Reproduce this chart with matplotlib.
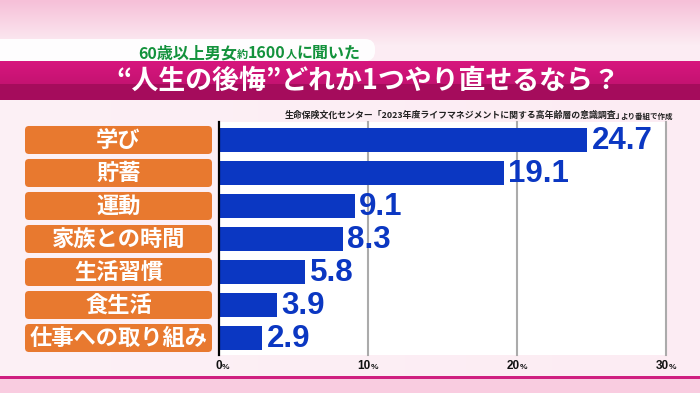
import numpy as np
import matplotlib
matplotlib.use('Agg')
import matplotlib.pyplot as plt
from matplotlib.patches import FancyBboxPatch, Rectangle

# data
items = ['学び', '貯蓄', '運動', '家族との時間', '生活習慣', '食生活', '仕事への取り組み']
values = [24.7, 19.1, 9.1, 8.3, 5.8, 3.9, 2.9]
ticks = [0, 10, 20, 30]
subtitle_parts = [('60歳以上男女', 11.5), ('約', 8), ('1600', 11.5), ('人', 8), ('に聞いた', 11.5)]
title = '“人生の後悔”どれか1つやり直せるなら？'
source_main = '生命保険文化センター「2023年度ライフマネジメントに関する高年齢層の意識調査」'
source_tail = 'より番組で作成'

JP = ['Noto Sans CJK JP', 'DejaVu Sans']
NUM = ['Liberation Sans', 'DejaVu Sans']
BLUE = '#0b37c2'
ORANGE = '#e8792f'
W, H = 700, 393

fig = plt.figure(figsize=(7, 3.93), dpi=100)

# background in pixel coordinates
bg = fig.add_axes([0, 0, 1, 1], zorder=0)
bg.set_xlim(0, W)
bg.set_ylim(H, 0)
bg.axis('off')

rows = np.arange(H)[:, None]
top = np.array([246, 192, 216]) / 255
body = np.array([252, 236, 243]) / 255
t = np.clip(rows / 45.0, 0, 1)
img = top * (1 - t) + body * t
img = np.repeat(img[:, None, :], W, axis=1)
# slight lightening to the left of the body
xs = np.linspace(0, 1, W)[None, :, None]
img = img + (1 - img) * 0.25 * (1 - xs) * (rows[:, :, None] > 60)
img[378:] = np.array([249, 204, 224]) / 255
# magenta band
band_top = np.array([215, 22, 126]) / 255
band_bot = np.array([165, 12, 92]) / 255
for y in range(61, 100):
    if y < 84:
        img[y] = band_top * (1 - (y - 61) / 60) + band_bot * ((y - 61) / 60)
    else:
        img[y] = band_bot
bg.imshow(img, extent=(0, W, H, 0), aspect='auto', zorder=0)

bg.add_patch(Rectangle((0, 376), W, 2.6, color='#cf1f80', lw=0, zorder=1))
bg.add_patch(FancyBboxPatch((-30, 39), 405, 22, boxstyle='round,pad=0,rounding_size=10',
                            fc='white', ec='none', alpha=0.95, zorder=1))

# subtitle in green, made of pieces
prev = None
for txt, fs in subtitle_parts:
    if prev is None:
        prev = bg.text(138, 58, txt, fontsize=fs, color='#13923c', fontweight='bold',
                       family=JP, ha='left', va='baseline', zorder=3)
    else:
        prev = bg.annotate(txt, xy=(1, 0), xycoords=prev, fontsize=fs, color='#13923c',
                           fontweight='bold', family=JP, ha='left', va='bottom', zorder=3)

bg.text(368, 81, title, fontsize=19.4, color='white', fontweight='bold', family=JP,
        ha='center', va='center', zorder=3)

src = bg.text(625, 118, source_main, fontsize=6.4, color='#222222', fontweight='bold',
              family=JP, ha='right', va='baseline', zorder=3)
bg.annotate(source_tail, xy=(1, 0), xycoords=src, xytext=(-3.5, 0), textcoords='offset points',
            fontsize=5.4, color='#222222', fontweight='bold', family=JP,
            ha='left', va='bottom', zorder=3)

# chart
ax = fig.add_axes([219 / W, 1 - 355 / H, (666 - 219) / W, (355 - 122) / H], zorder=1)
ax.set_facecolor('white')
ax.set_xlim(0, 30)
ax.set_ylim(6.515, -0.545)
for s in ax.spines.values():
    s.set_visible(False)
ax.set_xticks([])
ax.set_yticks([])

for tk in ticks[1:]:
    ax.axvline(tk, color='#ababab', lw=1.5, zorder=1, clip_on=False)
ax.axvline(0, color='black', lw=1.6, zorder=3, clip_on=False)

ypos = np.arange(len(items))
ax.barh(ypos, values, height=0.72, color=BLUE, zorder=2)
for y, v in zip(ypos, values):
    ax.text(v + 0.3, y + 0.03, f'{v:.1f}', fontsize=22.5, color=BLUE, fontweight='bold',
            family=NUM, ha='left', va='center', zorder=4)

# orange label boxes, positioned from the chart's y scale
to_bg = bg.transData.inverted()
for y, name in zip(ypos, items):
    yd = ax.transData.transform((0, y))[1]
    yc = to_bg.transform((0, yd))[1]
    bg.add_patch(FancyBboxPatch((25, yc - 14), 187, 28, boxstyle='round,pad=0,rounding_size=4',
                                fc=ORANGE, ec='none', zorder=2))
    bg.text(118.5, yc + 0.5, name, fontsize=16, color='white', fontweight='bold',
            family=JP, ha='center', va='center', zorder=3)

# x tick labels with a small percent sign
for tk in ticks:
    xd = ax.transData.transform((tk, 0))[0]
    xc = to_bg.transform((xd, 0))[0]
    bg.text(xc + 3, 369, str(tk), fontsize=8.5, color='#111111', fontweight='bold',
            family=NUM, ha='right', va='baseline', zorder=3)
    bg.text(xc + 2.5, 369, '%', fontsize=6, color='#111111', fontweight='bold',
            family=NUM, ha='left', va='baseline', zorder=3)

fig.savefig('out.png', dpi=100)
